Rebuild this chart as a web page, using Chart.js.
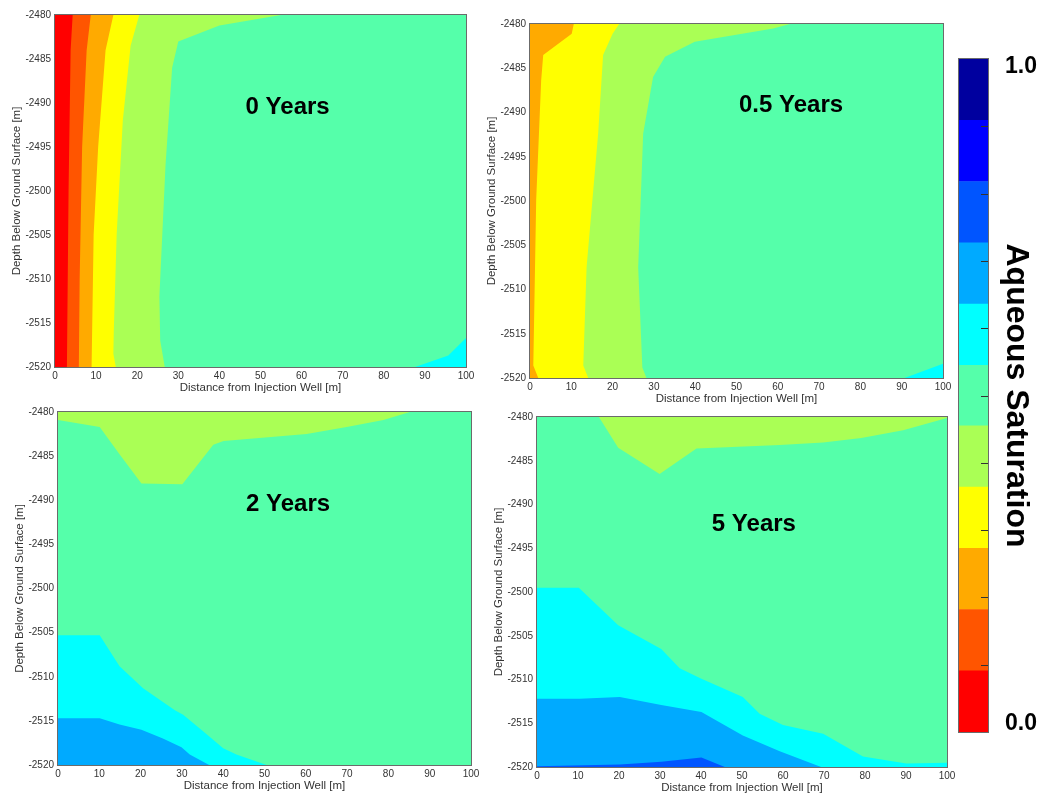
<!DOCTYPE html>
<html>
<head>
<meta charset="utf-8">
<script src="https://cdn.jsdelivr.net/npm/chart.js@4/dist/chart.umd.min.js"></script>
<style>
  body { margin: 0; background: #fff; width: 1040px; height: 793px; position: relative; overflow: hidden; }
  canvas { position: absolute; }
</style>
</head>
<body>
<canvas id="yr0"></canvas>
<canvas id="yr05"></canvas>
<canvas id="yr2"></canvas>
<canvas id="yr5"></canvas>
<canvas id="cbar"></canvas>
<script>
// Aqueous saturation contours at 0 / 0.5 / 2 / 5 years after injection

const FONT = '"Liberation Sans", Arial, Helvetica, sans-serif';

// colour bins of the colour bar, low -> high
const satLevels = [0, 0.091, 0.182, 0.273, 0.364, 0.455, 0.545, 0.636, 0.727, 0.818, 0.909, 1.0];
const satColors = ['#ff0000', '#ff5500', '#ffaa00', '#ffff00', '#aaff55', '#55ffaa',
                   '#00ffff', '#00aaff', '#0055ff', '#0000ff', '#00009f'];
const cbTickValues = [0.1, 0.2, 0.3, 0.4, 0.5, 0.6, 0.7, 0.8, 0.9];

// axes
const distTicks = [0, 10, 20, 30, 40, 50, 60, 70, 80, 90, 100];
const depthTicks = [-2480, -2485, -2490, -2495, -2500, -2505, -2510, -2515, -2520];

// contour regions, [distance m, depth m] outlines; index = colour bin
const fullDomain = [[0, -2480], [100, -2480], [100, -2520], [0, -2520]];

// 0 years
const yr0Cyan = [[87.6, -2520], [95.7, -2518.7], [100, -2516.7], [100, -2520]];
const yr0YG = [[0, -2480], [55, -2480], [40, -2481.2], [30, -2483], [28.5, -2486], [26.9, -2497],
               [25.4, -2512], [25.6, -2517], [26.7, -2520], [0, -2520]];
const yr0Yellow = [[0, -2480], [20.5, -2480], [18.4, -2483.5], [16.5, -2492], [15, -2505],
                   [14.3, -2516], [14.2, -2518.5], [14.8, -2520], [0, -2520]];
const yr0Orange = [[0, -2480], [14.2, -2480], [12.3, -2484], [10.5, -2495], [9.4, -2505],
                   [8.9, -2520], [0, -2520]];
const yr0RedOrange = [[0, -2480], [8.7, -2480], [7.7, -2484], [6.6, -2495], [6, -2510],
                      [5.8, -2520], [0, -2520]];
const yr0Red = [[0, -2480], [4.3, -2480], [3.8, -2484], [3.3, -2500], [2.9, -2520], [0, -2520]];

// 0.5 years
const yr05Cyan = [[90.7, -2520], [100, -2518.4], [100, -2520]];
const yr05YG = [[0, -2480], [62.9, -2480], [58.9, -2480.5], [39.9, -2482], [32.7, -2483.7],
                [29.8, -2486], [27.4, -2492.4], [26.2, -2507.5], [27.2, -2518.8], [28.2, -2520], [0, -2520]];
const yr05Yellow = [[0, -2480], [21.6, -2480], [20, -2481.1], [17.7, -2483.5], [16.5, -2492.4],
                    [13.7, -2507.5], [12.9, -2518.6], [14.1, -2520], [0, -2520]];
const yr05Orange = [[0, -2480], [10.6, -2480], [10.1, -2481.1], [3.2, -2483.5], [2.7, -2486.4],
                    [1.5, -2499.9], [0.8, -2518.6], [2, -2520], [0, -2520]];

// 2 years
const yr2YG = [[0, -2480], [0, -2480.9], [10.1, -2481.7], [14.9, -2484.8], [20.2, -2488.1],
               [30.1, -2488.2], [37.6, -2483.7], [40.1, -2483.3], [60.2, -2482.5], [69.9, -2481.7],
               [78.8, -2480.9], [85.2, -2480]];
const yr2Cyan = [[0, -2505.3], [10.1, -2505.3], [14.9, -2508.8], [20.6, -2511.3], [28.3, -2513.8],
                 [30.3, -2514.3], [35.2, -2516.2], [40, -2518.1], [43.2, -2518.8], [50.5, -2520], [0, -2520]];
const yr2Azure = [[0, -2514.7], [10.1, -2514.7], [14.9, -2515.4], [20.2, -2516], [25.4, -2517],
                  [29.9, -2518], [31.9, -2518.8], [36.6, -2520], [0, -2520]];

// 5 years
const yr5YG = [[15.1, -2480], [19.8, -2483.5], [29.9, -2486.5], [38.9, -2483.6], [59.2, -2483.2],
               [69.8, -2482.9], [79.1, -2482.4], [89.3, -2481.5], [100, -2480.1], [100, -2480]];
const yr5Cyan = [[0, -2499.5], [10.2, -2499.5], [19.8, -2503.8], [30.3, -2506.5], [34.8, -2508.7],
                 [40.1, -2509.9], [50.2, -2512], [54.3, -2513.9], [60, -2515.2], [69.8, -2516.2],
                 [79.5, -2518.8], [90.1, -2519.6], [100, -2519.5], [100, -2520], [0, -2520]];
const yr5Azure = [[0, -2512.2], [10.4, -2512.2], [20.2, -2512], [30.3, -2512.9], [40.1, -2513.7],
                  [50.2, -2516.4], [59.2, -2518.2], [69.3, -2520], [0, -2520]];
const yr5Blue = [[0, -2519.9], [20.2, -2519.7], [30.3, -2519.4], [40.1, -2518.9], [45.8, -2520], [0, -2520]];

// layers drawn bottom -> top, with their colour bin
const yr0Layers = [fullDomain, yr0Cyan, yr0YG, yr0Yellow, yr0Orange, yr0RedOrange, yr0Red];
const yr0Bins = [5, 6, 4, 3, 2, 1, 0];
const yr05Layers = [fullDomain, yr05Cyan, yr05YG, yr05Yellow, yr05Orange];
const yr05Bins = [5, 6, 4, 3, 2];
const yr2Layers = [fullDomain, yr2YG, yr2Cyan, yr2Azure];
const yr2Bins = [5, 4, 6, 7];
const yr5Layers = [fullDomain, yr5YG, yr5Cyan, yr5Azure, yr5Blue];
const yr5Bins = [5, 4, 6, 7, 8];

// box around the plot area (+ short ticks on the colour bar)
const framePlugin = {
  id: 'frame',
  afterDatasetsDraw(chart, args, opts) {
    const {ctx, chartArea: a} = chart;
    const l = Math.round(a.left), t = Math.round(a.top), r = Math.round(a.right), b = Math.round(a.bottom);
    ctx.save();
    ctx.strokeStyle = '#6b6b6b';
    ctx.lineWidth = 1;
    ctx.strokeRect(l - 0.5, t - 0.5, r - l + 1, b - t + 1);
    if (opts.ticks) {
      const y = chart.scales.y;
      ctx.strokeStyle = '#333';
      for (const v of opts.ticks) {
        const py = Math.round(y.getPixelForValue(v)) + 0.5;
        ctx.beginPath(); ctx.moveTo(r - 7, py); ctx.lineTo(r, py); ctx.stroke();
      }
    }
    ctx.restore();
  }
};

// "N Years" label inside each panel
const panelLabelPlugin = {
  id: 'panelLabel',
  afterDatasetsDraw(chart, args, opts) {
    if (!opts.text) return;
    const {ctx, scales: {x, y}} = chart;
    ctx.save();
    ctx.font = 'bold 24px ' + FONT;
    ctx.fillStyle = '#000';
    ctx.textAlign = 'center';
    ctx.textBaseline = 'middle';
    ctx.fillText(opts.text, x.getPixelForValue(opts.x), y.getPixelForValue(opts.y));
    ctx.restore();
  }
};

function drawPanel(id, box, layers, bins, label){
  // box: canvas left/top, plot area left/top/right/bottom (page px)
  const [cl, ct, al, at, ar, ab] = box;
  const cv = document.getElementById(id);
  cv.width = ar - cl + 14;
  cv.height = ab - ct + 30;
  cv.style.left = cl + 'px';
  cv.style.top = ct + 'px';
  const tickFont = {family: FONT, size: 10};
  const titleFont = {family: FONT, size: 11.5};
  new Chart(cv, {
    type: 'line',
    data: {
      datasets: layers.map((pts, i) => ({
        data: pts,
        fill: 'shape',
        backgroundColor: satColors[bins[i]],
        borderColor: satColors[bins[i]],
        borderWidth: 0,
        pointRadius: 0,
        order: layers.length - i
      }))
    },
    options: {
      responsive: false,
      animation: false,
      events: [],
      layout: {padding: {left: 0, top: at - ct, right: 14, bottom: 0}},
      scales: {
        x: {
          type: 'linear', min: 0, max: 100,
          afterBuildTicks: s => { s.ticks = distTicks.map(v => ({value: v})); },
          afterFit: s => { s.height = 30; },
          grid: {display: false, drawTicks: false},
          border: {display: false},
          ticks: {padding: 3, color: '#333', font: tickFont, maxRotation: 0, callback: v => String(v)},
          title: {display: true, text: 'Distance from Injection Well [m]', color: '#333', font: titleFont,
                  padding: {top: 0, bottom: 2.4}}
        },
        y: {
          type: 'linear', min: -2520, max: -2480,
          afterBuildTicks: s => { s.ticks = depthTicks.map(v => ({value: v})); },
          afterFit: s => { s.width = al - cl; },
          grid: {display: false, drawTicks: false},
          border: {display: false},
          ticks: {padding: 4, color: '#333', font: tickFont, callback: v => String(v)},
          title: {display: true, text: 'Depth Below Ground Surface [m]', color: '#333', font: titleFont,
                  padding: {top: 10, bottom: 0}}
        }
      },
      plugins: {
        legend: {display: false},
        tooltip: {enabled: false},
        panelLabel: label
      }
    },
    plugins: [framePlugin, panelLabelPlugin]
  });
}

drawPanel('yr0',  [0, 0, 55, 15, 466, 367],     yr0Layers,  yr0Bins,  {text: '0 Years',   x: 56.6, y: -2490.5});
drawPanel('yr05', [475, 0, 530, 24, 943, 378],  yr05Layers, yr05Bins, {text: '0.5 Years', x: 63.2, y: -2489.2});
drawPanel('yr2',  [3, 400, 58, 412, 471, 765],  yr2Layers,  yr2Bins,  {text: '2 Years',   x: 55.7, y: -2490.5});
drawPanel('yr5',  [482, 400, 537, 417, 947, 767], yr5Layers, yr5Bins, {text: '5 Years',   x: 52.9, y: -2492.3});

// colour bar
(function colorbar(){
  const cv = document.getElementById('cbar');
  cv.width = 100; cv.height = 793;
  cv.style.left = '940px'; cv.style.top = '0px';
  new Chart(cv, {
    type: 'bar',
    data: {
      labels: [''],
      datasets: satColors.map((c, i) => ({
        data: [[satLevels[i], satLevels[i + 1]]],
        backgroundColor: c,
        borderWidth: 0,
        grouped: false,
        barPercentage: 1,
        categoryPercentage: 1
      }))
    },
    options: {
      responsive: false,
      animation: false,
      events: [],
      layout: {padding: {left: 19, top: 59, right: 0, bottom: 61}},
      scales: {
        x: {display: false},
        y: {
          position: 'right', min: 0, max: 1,
          // end labels sit a little inside the bar ends
          afterBuildTicks: s => { s.ticks = [{value: 0.013}, {value: 0.988}]; },
          afterFit: s => { s.width = 52; },
          grid: {display: false, drawTicks: false},
          border: {display: false},
          ticks: {padding: 17, color: '#000', font: {family: FONT, size: 23, weight: 'bold'},
                  callback: v => v.toFixed(1)},
          title: {display: true, text: 'Aqueous Saturation', color: '#000',
                  font: {family: FONT, size: 32, weight: 'bold'}, padding: {top: 5, bottom: 0}}
        }
      },
      plugins: {
        legend: {display: false},
        tooltip: {enabled: false},
        frame: {ticks: cbTickValues}
      }
    },
    plugins: [framePlugin]
  });
})();
</script>
</body>
</html>
